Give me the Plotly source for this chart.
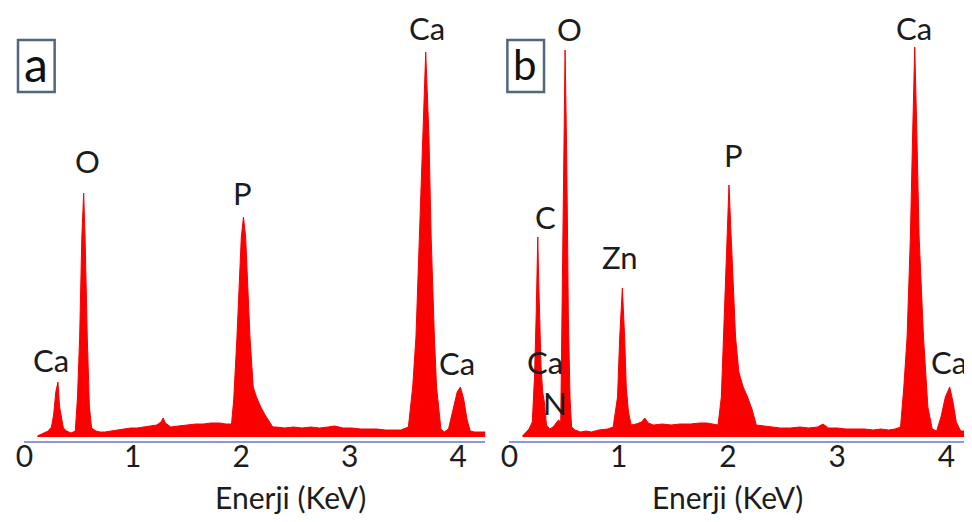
import plotly.graph_objects as go

# ---------------- data ----------------
# Panel a: EDS spectrum, energy in keV, intensity in arbitrary units
energy_a = [0.12, 0.16, 0.19, 0.22, 0.25, 0.27, 0.29, 0.31, 0.325, 0.34, 0.36, 0.39,
            0.43, 0.47, 0.49, 0.51, 0.53, 0.547, 0.56, 0.58, 0.60, 0.62, 0.66, 0.70,
            0.74, 0.80, 0.86, 0.92, 0.98, 1.04, 1.10, 1.16, 1.22, 1.26, 1.28, 1.30,
            1.35, 1.42, 1.50, 1.58, 1.65, 1.72, 1.80, 1.86, 1.91, 1.93, 1.96, 2.00,
            2.02, 2.04, 2.08, 2.11, 2.14, 2.18, 2.22, 2.26, 2.29, 2.32, 2.40, 2.48,
            2.56, 2.64, 2.72, 2.80, 2.86, 2.94, 3.02, 3.10, 3.17, 3.25, 3.33, 3.40,
            3.47, 3.54, 3.58, 3.61, 3.64, 3.67, 3.70, 3.73, 3.75, 3.78, 3.80, 3.84,
            3.87, 3.91, 3.95, 3.99, 4.02, 4.05, 4.08, 4.11, 4.15, 4.20, 4.25]
counts_a = [1, 3, 4, 6, 10, 22, 45, 55, 30, 20, 9, 6,
            4, 6, 40, 100, 200, 244, 200, 100, 30, 9, 6, 5,
            5, 6, 7, 8, 9, 9, 10, 11, 12, 15, 19, 14,
            10, 11, 12, 13, 13, 14, 14, 13, 13, 37, 100, 200,
            220, 200, 100, 50, 40, 30, 22, 15, 10, 10, 9, 10,
            9, 10, 9, 10, 11, 9, 9, 8, 8, 8, 7, 7,
            7, 10, 50, 100, 200, 300, 385, 300, 200, 100, 50, 8,
            5, 8, 25, 45, 50, 38, 18, 6, 5, 5, 5]

# Panel b
energy_b = [0.12, 0.15, 0.18, 0.21, 0.23, 0.245, 0.26, 0.27, 0.28, 0.29, 0.305, 0.32,
            0.34, 0.37, 0.40, 0.43, 0.45, 0.47, 0.48, 0.495, 0.51, 0.525, 0.54, 0.555,
            0.57, 0.60, 0.65, 0.70, 0.75, 0.82, 0.90, 0.95, 0.99, 1.01, 1.034, 1.055,
            1.07, 1.09, 1.115, 1.16, 1.21, 1.24, 1.27, 1.32, 1.40, 1.48, 1.56, 1.66,
            1.74, 1.81, 1.87, 1.91, 1.94, 1.96, 1.99, 2.01, 2.03, 2.07, 2.10, 2.14,
            2.18, 2.22, 2.26, 2.32, 2.40, 2.48, 2.57, 2.66, 2.74, 2.82, 2.87, 2.92,
            3.00, 3.08, 3.17, 3.25, 3.33, 3.40, 3.47, 3.53, 3.58, 3.61, 3.64, 3.67,
            3.69, 3.71, 3.73, 3.75, 3.79, 3.83, 3.87, 3.91, 3.95, 3.99, 4.03, 4.06,
            4.09, 4.13, 4.17, 4.21]
counts_b = [1, 4, 8, 15, 60, 120, 200, 150, 100, 70, 45, 35,
            12, 8, 10, 14, 17, 15, 100, 250, 387, 280, 120, 40,
            10, 7, 5, 6, 5, 7, 8, 10, 40, 100, 149, 100,
            50, 25, 12, 13, 15, 19, 14, 12, 13, 12, 13, 13,
            14, 14, 13, 12, 40, 100, 200, 252, 200, 100, 65, 50,
            40, 28, 12, 11, 10, 9, 9, 10, 9, 10, 13, 9,
            9, 8, 8, 8, 7, 8, 7, 8, 10, 50, 100, 200,
            300, 390, 300, 200, 100, 30, 8, 6, 20, 40, 50, 35,
            15, 6, 6, 6]

tick_vals = [0, 1, 2, 3, 4]
tick_text = ["0", "1", "2", "3", "4"]
axis_title = "Enerji (KeV)"

# element labels: (text, energy keV, label height in intensity units)
labels_a = [("Ca", 3.71, 409), ("O", 0.58, 276), ("P", 2.01, 244),
            ("Ca", 0.25, 77), ("Ca", 3.99, 74)]
labels_b = [("O", 0.55, 408), ("Ca", 3.70, 409), ("C", 0.33, 220),
            ("Zn", 1.01, 180), ("P", 2.05, 282), ("Ca", 0.33, 75),
            ("N", 0.42, 34), ("Ca", 4.02, 75)]

# ---------------- figure ----------------
RED = "rgb(250,0,0)"
AXIS_BLUE = "#8e98d6"
FONT = "Lato"
TXT = "#1c1c1c"

OFF = 8                      # page body margin of the browser
W, H = 972 - OFF, 522 - OFF
TOP = 37 - OFF
BOT = H - (441 - OFF)
PH = H - TOP - BOT           # 404 px for 404 intensity units
Y_MIN = -4
DXA, DXB = -4, -2            # small horizontal corrections per panel


def px_x(p):
    return (p - OFF) / W


def px_y(p):
    return (H - BOT - (p - OFF)) / PH


def val_y(v):
    return (v - Y_MIN) / PH


fig = go.Figure()
fig.add_trace(go.Scatter(x=energy_a, y=counts_a, mode="lines", fill="tozeroy",
                         line=dict(color=RED, width=1), fillcolor=RED,
                         xaxis="x", yaxis="y", showlegend=False, hoverinfo="skip"))
fig.add_trace(go.Scatter(x=energy_b, y=counts_b, mode="lines", fill="tozeroy",
                         line=dict(color=RED, width=1), fillcolor=RED,
                         xaxis="x2", yaxis="y2", showlegend=False, hoverinfo="skip"))

ax_common = dict(showline=True, linecolor=AXIS_BLUE, linewidth=2, showgrid=False,
                 zeroline=False, ticks="", tickvals=tick_vals, ticktext=tick_text,
                 ticklabelstandoff=-12,
                 tickfont=dict(family=FONT, size=30, color=TXT), fixedrange=True)
ay_common = dict(range=[Y_MIN, Y_MIN + PH], visible=False, fixedrange=True)

fig.update_layout(
    width=W, height=H,
    margin=dict(l=0, r=0, t=TOP, b=BOT),
    paper_bgcolor="white", plot_bgcolor="white",
    xaxis=dict(domain=[px_x(19.4 + DXA), px_x(484.8 + DXA)], range=[0, 4.25],
               anchor="y", **ax_common),
    yaxis=dict(domain=[0, 1], anchor="x", **ay_common),
    xaxis2=dict(domain=[px_x(507 + DXB), 1.0], range=[0, (972 - 507 - DXB) / 110.3],
                anchor="y2", **ax_common),
    yaxis2=dict(domain=[0, 1], anchor="x2", **ay_common),
)

annotations = []
for txt, e, h in labels_a:
    annotations.append(dict(text=txt, x=e, y=val_y(h), xref="x", yref="paper",
                            showarrow=False, xanchor="center", yanchor="middle",
                            font=dict(family=FONT, size=31, color=TXT)))
for txt, e, h in labels_b:
    annotations.append(dict(text=txt, x=e, y=val_y(h), xref="x2", yref="paper",
                            showarrow=False, xanchor="center", yanchor="middle",
                            font=dict(family=FONT, size=31, color=TXT)))

annotations.append(dict(text=axis_title, x=2.45, y=px_y(497), xref="x", yref="paper",
                        showarrow=False, xanchor="center", yanchor="middle",
                        font=dict(family=FONT, size=30, color=TXT)))
annotations.append(dict(text=axis_title, x=2.0, y=px_y(497), xref="x2", yref="paper",
                        showarrow=False, xanchor="center", yanchor="middle",
                        font=dict(family=FONT, size=30, color=TXT)))

# panel letters in boxes
annotations.append(dict(text="a", x=px_x(31 + DXA), y=px_y(64), xref="paper", yref="paper",
                        showarrow=False, xanchor="center", yanchor="middle",
                        font=dict(family=FONT, size=48, color="#111111")))
annotations.append(dict(text="b", x=px_x(523 + DXB), y=px_y(64), xref="paper", yref="paper",
                        showarrow=False, xanchor="center", yanchor="middle",
                        font=dict(family=FONT, size=42, color="#111111")))

BOX = "#52667e"
shapes = [
    dict(type="rect", xref="paper", yref="paper", x0=px_x(13 + DXA), x1=px_x(50 + DXA),
         y0=px_y(92), y1=px_y(40), line=dict(color=BOX, width=2.5),
         fillcolor="rgba(0,0,0,0)"),
    dict(type="rect", xref="paper", yref="paper", x0=px_x(505 + DXB), x1=px_x(542 + DXB),
         y0=px_y(92), y1=px_y(40), line=dict(color=BOX, width=2.5),
         fillcolor="rgba(0,0,0,0)"),
]

fig.update_layout(annotations=annotations, shapes=shapes)
fig.write_html("out.html")
